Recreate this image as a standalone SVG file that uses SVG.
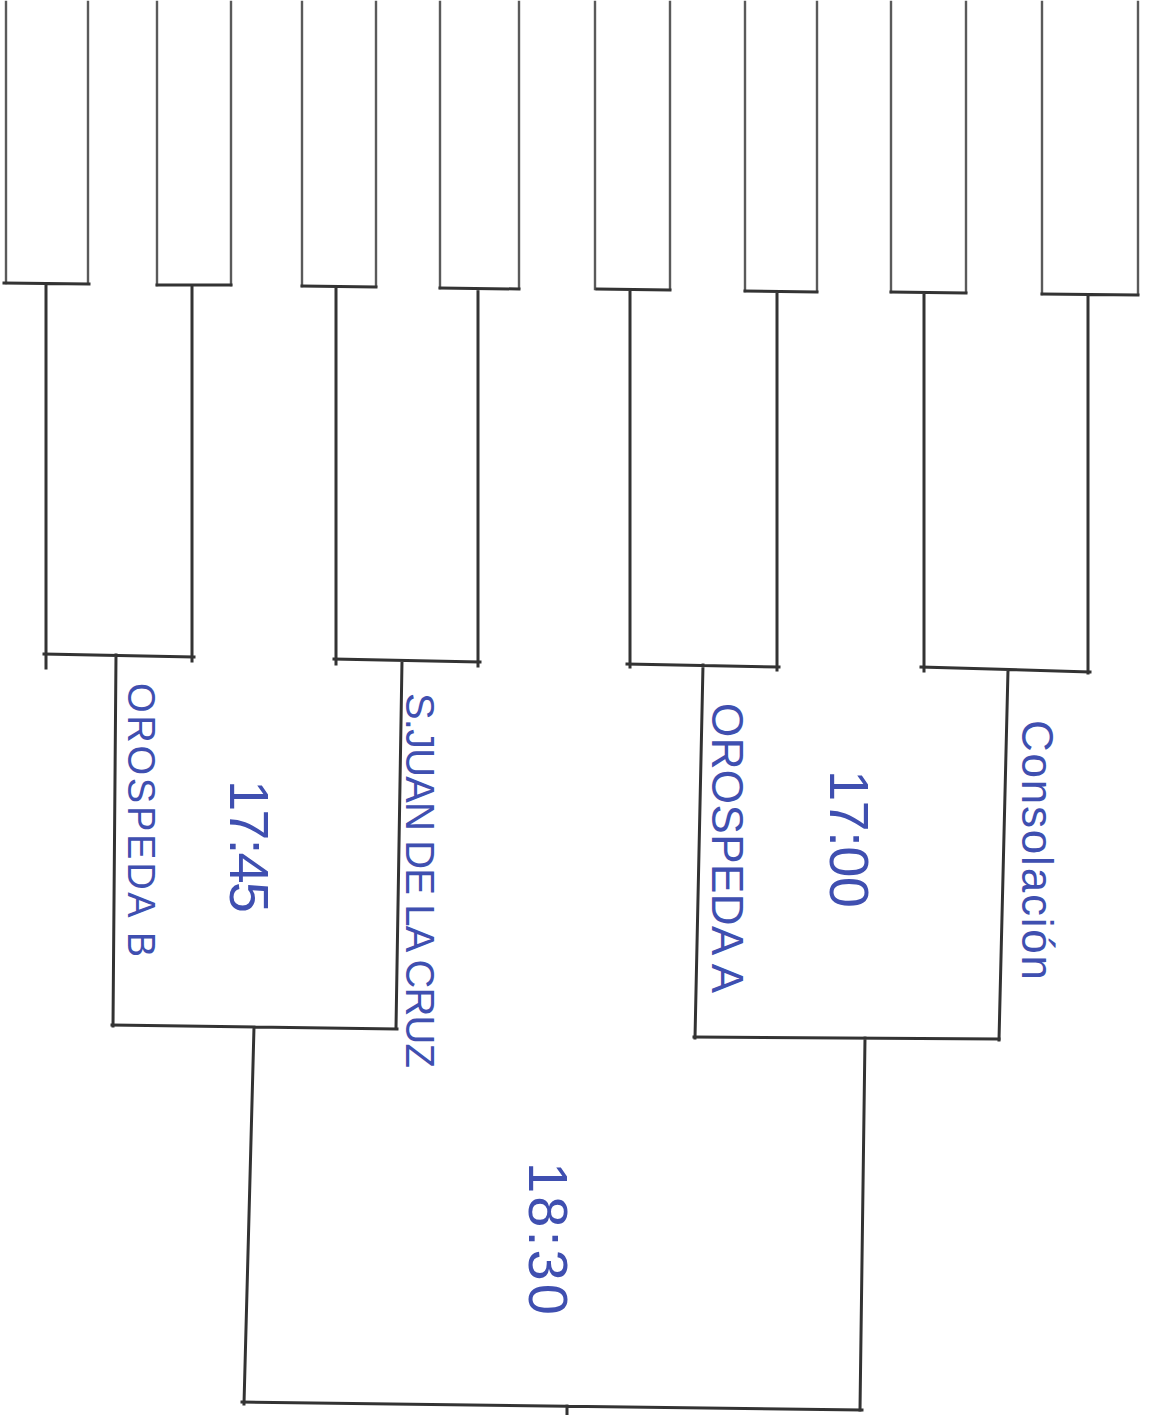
<svg xmlns="http://www.w3.org/2000/svg" width="1154" height="1415" viewBox="0 0 1154 1415">
  <style>
    .bg { fill: #ffffff; }
    .lane { stroke: #5a5a5a; stroke-width: 2.4; fill: none; stroke-linecap: square; }
    .ln { stroke: #333333; stroke-width: 3; fill: none; stroke-linecap: square; }
    .hw { font-family: "Liberation Sans", "DejaVu Sans", sans-serif; fill: #3f4fb0; dominant-baseline: central; }
  </style>
  <rect class="bg" x="0" y="0" width="1154" height="1415"/>

  <g id="connectors">
    <!-- first round entry lanes -->
    <g id="slot-1"><path class="lane" d="M6,2 V283 M88,2 V283"/><path class="ln" d="M4,283 L89,284 M46,284 V668"/></g>
    <g id="slot-2"><path class="lane" d="M157,2 V285 M231,2 V285"/><path class="ln" d="M157,285 L231,285 M192,285 V661"/></g>
    <g id="slot-3"><path class="lane" d="M302,2 V286 M376,2 V286"/><path class="ln" d="M302,286 L376,287 M336,287 V664"/></g>
    <g id="slot-4"><path class="lane" d="M440,2 V288 M519,2 V288"/><path class="ln" d="M440,288 L519,289 M478,289 V666"/></g>
    <g id="slot-5"><path class="lane" d="M595,2 V289 M670,2 V289"/><path class="ln" d="M597,289 L670,290 M630,290 V667"/></g>
    <g id="slot-6"><path class="lane" d="M745,2 V291 M817,2 V291"/><path class="ln" d="M745,291 L817,292 M777,292 V670"/></g>
    <g id="slot-7"><path class="lane" d="M891,2 V292 M966,2 V292"/><path class="ln" d="M891,292 L966,293 M924,293 V671"/></g>
    <g id="slot-8"><path class="lane" d="M1042,2 V294 M1138,2 V294"/><path class="ln" d="M1042,294 L1138,295 M1088,295 V673"/></g>

    <!-- second round -->
    <path class="ln" d="M44,654 L194,657 M116,655 L113,1026"/>
    <path class="ln" d="M334,659 L480,662 M402,661 L396,1028"/>
    <path class="ln" d="M627,664 L779,667 M703,665 L695,1038"/>
    <path class="ln" d="M921,667 L1090,672 M1008,670 L999,1040"/>

    <!-- semifinals -->
    <path class="ln" d="M112,1025 L397,1029 M254,1027 L244,1404"/>
    <path class="ln" d="M694,1037 L999,1039 M865,1038 L860,1410"/>

    <!-- final -->
    <path class="ln" d="M242,1402 L862,1410 M567,1406 V1415"/>
  </g>

  <g id="team-orospeda-b"><text class="hw" font-size="38" transform="translate(141,683) rotate(90)" textLength="274" lengthAdjust="spacing">OROSPEDA B</text></g>
  <g id="time-1745"><text class="hw" font-size="56" transform="translate(249,780) rotate(90)" textLength="133" lengthAdjust="spacing">17:45</text></g>
  <g id="team-sjuan"><text class="hw" font-size="40" transform="translate(420,693) rotate(90)" textLength="375" lengthAdjust="spacing">S.JUAN DE LA CRUZ</text></g>
  <g id="team-orospeda-a"><text class="hw" font-size="44" transform="translate(727,703) rotate(90)" textLength="290" lengthAdjust="spacing">OROSPEDA A</text></g>
  <g id="time-1700"><text class="hw" font-size="56" transform="translate(849,770) rotate(90)" textLength="138" lengthAdjust="spacing">17:00</text></g>
  <g id="team-consolacion"><text class="hw" font-size="44" transform="translate(1037,720) rotate(90)" textLength="260" lengthAdjust="spacing">Consolación</text></g>
  <g id="time-1830"><text class="hw" font-size="56" transform="translate(548,1162) rotate(90)" textLength="153" lengthAdjust="spacing">18:30</text></g>
</svg>
